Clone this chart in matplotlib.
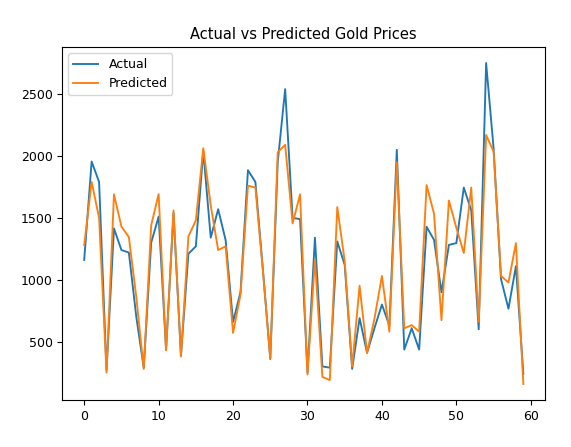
import numpy as np
import matplotlib
matplotlib.use("Agg")
import matplotlib.pyplot as plt

# values (60 test samples)
actual = [1160, 1955, 1790, 270, 1415, 1240, 1220, 700, 290, 1300,
          1510, 435, 1540, 390, 1210, 1270, 2040, 1340, 1570, 1320,
          660, 900, 1885, 1790, 1090, 360, 1950, 2540, 1500, 1490,
          250, 1340, 300, 290, 1310, 1120, 280, 690, 410, 610,
          800, 630, 2050, 436, 608, 436, 1428, 1322, 899, 1282,
          1296, 1745, 1560, 600, 2751, 2063, 1005, 766, 1110, 240]
predicted = [1280, 1790, 1500, 250, 1690, 1430, 1345, 860, 280, 1440,
             1692, 430, 1560, 380, 1350, 1480, 2063, 1600, 1240, 1270,
             570, 880, 1760, 1745, 1080, 365, 2030, 2090, 1455, 1690,
             235, 1163, 215, 190, 1587, 1150, 300, 952, 409, 687,
             1031, 581, 1950, 608, 634, 581, 1765, 1534, 674, 1640,
             1420, 1216, 1745, 660, 2169, 2036, 1031, 978, 1296, 158]

idx = np.arange(len(actual))

fig = plt.figure(figsize=(5.71, 4.47), dpi=100)
ax = fig.add_axes([0.109, 0.105, 0.846, 0.79])
ax.plot(idx, actual, color="#1f77b4", lw=1.35, label="Actual")
ax.plot(idx, predicted, color="#ff7f0e", lw=1.35, label="Predicted")
ax.set_title("Actual vs Predicted Gold Prices", fontsize=10.5)
ax.tick_params(labelsize=9)
ax.legend(loc="upper left", fontsize=9)

fig.savefig("out.png", dpi=100)
